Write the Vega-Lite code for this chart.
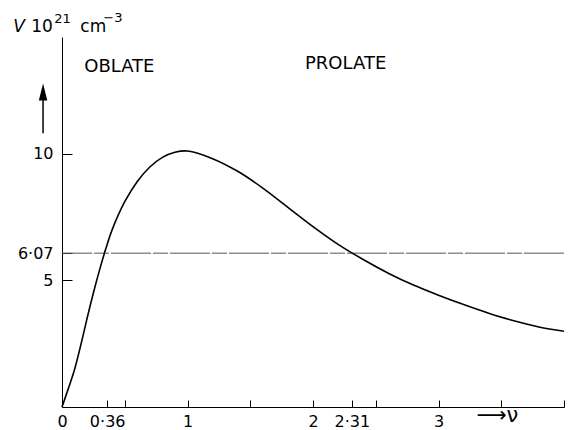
{
  "$schema": "https://vega.github.io/schema/vega-lite/v6.json",
  "width": 502,
  "height": 370,
  "autosize": {"type": "none"},
  "padding": {"left": 62, "top": 37, "right": 4, "bottom": 23},
  "background": "white",
  "config": {
    "view": {"stroke": null},
    "font": "DejaVu Sans",
    "axis": {
      "grid": false,
      "domainColor": "black",
      "tickColor": "black",
      "labelColor": "black",
      "titleColor": "black",
      "labelFont": "DejaVu Sans",
      "labelFontSize": 16,
      "titleFont": "DejaVu Sans",
      "titleFontWeight": "normal"
    }
  },
  "datasets": {
    "curve": [
      {"x": 0, "y": 0}, {"x": 0.05, "y": 0.72}, {"x": 0.1, "y": 1.48}, {"x": 0.15, "y": 2.45},
      {"x": 0.2, "y": 3.5}, {"x": 0.25, "y": 4.5}, {"x": 0.3, "y": 5.42}, {"x": 0.35, "y": 6.26},
      {"x": 0.4, "y": 7.0}, {"x": 0.5, "y": 8.1}, {"x": 0.6, "y": 8.9}, {"x": 0.7, "y": 9.47},
      {"x": 0.8, "y": 9.85}, {"x": 0.9, "y": 10.05}, {"x": 1.0, "y": 10.1}, {"x": 1.2, "y": 9.8},
      {"x": 1.4, "y": 9.3}, {"x": 1.6, "y": 8.64}, {"x": 1.8, "y": 7.88}, {"x": 2.0, "y": 7.12},
      {"x": 2.2, "y": 6.42}, {"x": 2.4, "y": 5.82}, {"x": 2.6, "y": 5.28}, {"x": 2.8, "y": 4.81},
      {"x": 3.0, "y": 4.41}, {"x": 3.2, "y": 4.04}, {"x": 3.4, "y": 3.7}, {"x": 3.6, "y": 3.4},
      {"x": 3.8, "y": 3.16}, {"x": 4.0, "y": 2.99}
    ],
    "labels": [
      {"x": 0.457, "y": 13.41, "text": "OBLATE"},
      {"x": 2.26, "y": 13.52, "text": "PROLATE"}
    ],
    "titleItalic": [{"x": -0.388, "y": 14.78, "text": "V"}],
    "titleMain": [
      {"x": -0.245, "y": 14.78, "text": "10"},
      {"x": 0.146, "y": 14.78, "text": "cm"}
    ],
    "titleSup": [
      {"x": -0.061, "y": 15.14, "text": "21"},
      {"x": 0.329, "y": 15.18, "text": "−3"}
    ],
    "arrow": [{"x": -0.151, "y": 10.8, "y2": 12.3}],
    "head": [{"x": -0.151, "y": 12.43}],
    "ref": [{"y": 6.07}]
  },
  "layer": [
    {
      "data": {"name": "ref"},
      "mark": {"type": "rule", "color": "#555", "strokeWidth": 1, "strokeDash": [40, 2, 15, 2]},
      "encoding": {"y": {"field": "y", "type": "quantitative"}}
    },
    {
      "data": {"name": "curve"},
      "mark": {"type": "line", "color": "black", "strokeWidth": 1.6, "interpolate": "catmull-rom"},
      "encoding": {
        "x": {
          "field": "x", "type": "quantitative",
          "scale": {"domain": [0, 4], "nice": false},
          "axis": {
            "values": [0, 0.36, 0.5, 1, 1.5, 2, 2.31, 2.5, 3, 3.5, 4],
            "labelExpr": "datum.value==0?'0':datum.value==0.36?'0·36':datum.value==1?'1':datum.value==2?'2':datum.value==2.31?'2·31':datum.value==3?'3':''",
            "tickSize": -7,
            "labelPadding": 13,
            "labelFlush": false,
            "labelOverlap": false,
            "title": "⟶ν",
            "titleX": 414,
            "titleY": 14,
            "titleAlign": "left",
            "titleBaseline": "alphabetic",
            "titleFontSize": 21
          }
        },
        "y": {
          "field": "y", "type": "quantitative",
          "scale": {"domain": [0, 14.6], "nice": false},
          "axis": {
            "values": [5, 6.07, 10],
            "labelExpr": "datum.value==6.07?'6·07':datum.label",
            "tickSize": -10,
            "labelPadding": 19,
            "labelOverlap": false,
            "title": null
          }
        }
      }
    },
    {
      "data": {"name": "labels"},
      "mark": {"type": "text", "fontSize": 18, "color": "black", "align": "center", "baseline": "middle"},
      "encoding": {
        "x": {"field": "x", "type": "quantitative"},
        "y": {"field": "y", "type": "quantitative"},
        "text": {"field": "text"}
      }
    },
    {
      "data": {"name": "titleItalic"},
      "mark": {"type": "text", "fontSize": 17, "fontStyle": "italic", "color": "black", "align": "left", "baseline": "alphabetic"},
      "encoding": {
        "x": {"field": "x", "type": "quantitative"},
        "y": {"field": "y", "type": "quantitative"},
        "text": {"field": "text"}
      }
    },
    {
      "data": {"name": "titleMain"},
      "mark": {"type": "text", "fontSize": 17, "color": "black", "align": "left", "baseline": "alphabetic"},
      "encoding": {
        "x": {"field": "x", "type": "quantitative"},
        "y": {"field": "y", "type": "quantitative"},
        "text": {"field": "text"}
      }
    },
    {
      "data": {"name": "titleSup"},
      "mark": {"type": "text", "fontSize": 13, "color": "black", "align": "left", "baseline": "alphabetic"},
      "encoding": {
        "x": {"field": "x", "type": "quantitative"},
        "y": {"field": "y", "type": "quantitative"},
        "text": {"field": "text"}
      }
    },
    {
      "data": {"name": "arrow"},
      "mark": {"type": "rule", "color": "black", "strokeWidth": 1.5},
      "encoding": {
        "x": {"field": "x", "type": "quantitative"},
        "y": {"field": "y", "type": "quantitative"},
        "y2": {"field": "y2"}
      }
    },
    {
      "data": {"name": "head"},
      "mark": {"type": "point", "shape": "M0,-1L0.5,1L-0.5,1Z", "size": 289, "filled": true, "color": "black", "opacity": 1},
      "encoding": {
        "x": {"field": "x", "type": "quantitative"},
        "y": {"field": "y", "type": "quantitative"}
      }
    }
  ]
}
